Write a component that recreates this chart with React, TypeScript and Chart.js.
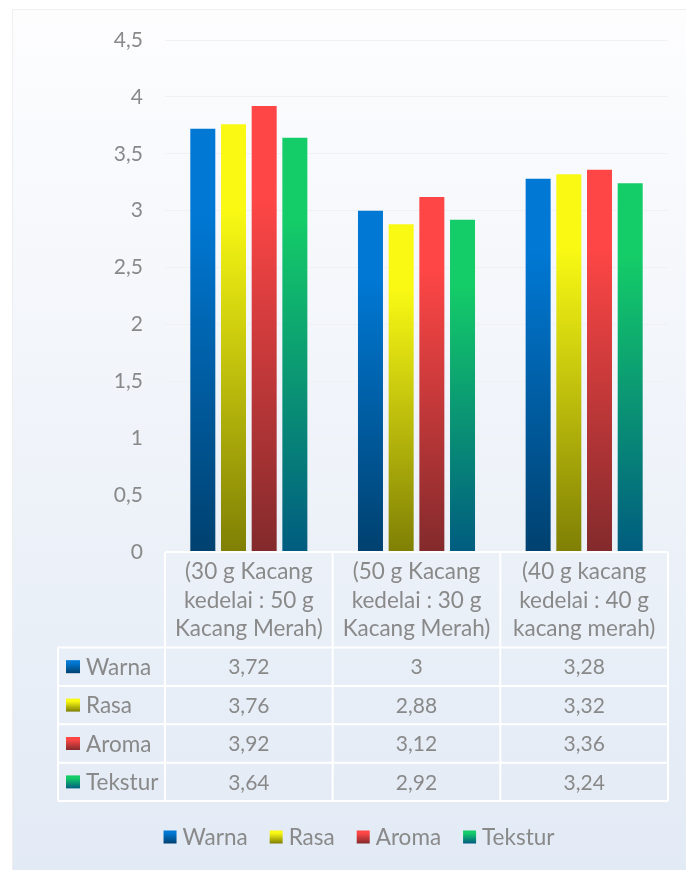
import React, { useEffect, useRef } from "react";
import { Chart, registerables } from "chart.js";

Chart.register(...registerables);

const categories: string[][] = [
  ["(30 g Kacang", "kedelai : 50 g", "Kacang Merah)"],
  ["(50 g Kacang", "kedelai : 30 g", "Kacang Merah)"],
  ["(40 g kacang", "kedelai : 40 g", "kacang merah)"],
];
const seriesNames = ["Warna", "Rasa", "Aroma", "Tekstur"];
const warna = [3.72, 3, 3.28];
const rasa = [3.76, 2.88, 3.32];
const aroma = [3.92, 3.12, 3.36];
const tekstur = [3.64, 2.92, 3.24];
const seriesValues = [warna, rasa, aroma, tekstur];
const topColors = ["#0078D4", "#F9F914", "#FF4646", "#14CC68"];
const bottomColors = ["#00416F", "#7F7F05", "#832A2C", "#005C80"];
const yMin = 0;
const yMax = 4.5;
const yStep = 0.5;

const FONT = "Lato, 'Open Sans', sans-serif";
const NUM_SIZE = 21;
const WORD_SIZE = 22.5;
const TEXT = "#898989";

const fmt = (v: number) => String(v).replace(".", ",");

function vGrad(ctx: CanvasRenderingContext2D, top: number, bottom: number, i: number) {
  const g = ctx.createLinearGradient(0, top, 0, bottom);
  g.addColorStop(0, topColors[i]);
  g.addColorStop(0.2, topColors[i]);
  g.addColorStop(1, bottomColors[i]);
  return g;
}

const bgPlugin = {
  id: "bg",
  beforeDraw(chart: any) {
    const ctx = chart.ctx as CanvasRenderingContext2D;
    const w = chart.width;
    const h = chart.height;
    ctx.save();
    ctx.fillStyle = "#ffffff";
    ctx.fillRect(0, 0, w, h);
    const g = ctx.createLinearGradient(0, 9, 0, h);
    g.addColorStop(0, "#fdfdfe");
    g.addColorStop(1, "#e2eaf5");
    ctx.fillStyle = g;
    ctx.fillRect(12, 9, w - 12, h - 9);
    ctx.strokeStyle = "#efefef";
    ctx.lineWidth = 1;
    ctx.beginPath();
    ctx.moveTo(12.5, h);
    ctx.lineTo(12.5, 9.5);
    ctx.lineTo(w, 9.5);
    ctx.stroke();
    ctx.restore();
  },
};

const tablePlugin = {
  id: "dataTable",
  afterDraw(chart: any) {
    const ctx = chart.ctx as CanvasRenderingContext2D;
    const ca = chart.chartArea;
    const xs = chart.scales.x;
    const n = categories.length;
    const colW = (ca.right - ca.left) / n;
    const tableLeft = 58;
    const headerBottom = ca.bottom + 95.5;
    const rowH = 38.4;
    const tableBottom = headerBottom + rowH * seriesNames.length;

    ctx.save();
    ctx.strokeStyle = "#ffffff";
    ctx.lineWidth = 2;
    ctx.beginPath();
    ctx.moveTo(ca.left, ca.bottom);
    ctx.lineTo(ca.right, ca.bottom);
    for (let r = 0; r <= seriesNames.length; r++) {
      const y = headerBottom + r * rowH;
      ctx.moveTo(tableLeft, y);
      ctx.lineTo(ca.right, y);
    }
    ctx.moveTo(tableLeft, headerBottom);
    ctx.lineTo(tableLeft, tableBottom);
    for (let c = 0; c <= n; c++) {
      const x = ca.left + c * colW;
      ctx.moveTo(x, ca.bottom);
      ctx.lineTo(x, tableBottom);
    }
    ctx.stroke();

    const wordFont = `${WORD_SIZE}px ${FONT}`;
    const numFont = `${NUM_SIZE}px ${FONT}`;
    ctx.fillStyle = TEXT;
    ctx.textBaseline = "middle";
    ctx.textAlign = "center";
    ctx.font = wordFont;
    categories.forEach((lines, i) => {
      const cx = xs.getPixelForValue(i);
      lines.forEach((ln, k) => {
        ctx.fillText(ln, cx, ca.bottom + 20 + k * 28.6);
      });
    });
    seriesNames.forEach((name, s) => {
      const yTop = headerBottom + s * rowH;
      const cy = yTop + rowH / 2;
      ctx.fillStyle = vGrad(ctx, cy - 6.5, cy + 6.5, s);
      ctx.fillRect(66, cy - 6.5, 14, 13);
      ctx.fillStyle = TEXT;
      ctx.textAlign = "left";
      ctx.font = wordFont;
      ctx.fillText(name, 86, cy + 1);
      ctx.textAlign = "center";
      ctx.font = numFont;
      seriesValues[s].forEach((v, i) => {
        ctx.fillText(fmt(v), xs.getPixelForValue(i), cy + 1);
      });
    });

    const ly = 837;
    const box = 13;
    const gapBoxText = 6;
    const gapItems = 22;
    ctx.font = wordFont;
    const widths = seriesNames.map((nm) => ctx.measureText(nm).width);
    const total =
      widths.reduce((a, b) => a + b, 0) + seriesNames.length * (box + gapBoxText) + (seriesNames.length - 1) * gapItems;
    let x = 359 - total / 2;
    ctx.textAlign = "left";
    seriesNames.forEach((nm, s) => {
      ctx.fillStyle = vGrad(ctx, ly - box / 2, ly + box / 2, s);
      ctx.fillRect(x, ly - box / 2, box, box);
      x += box + gapBoxText;
      ctx.fillStyle = TEXT;
      ctx.fillText(nm, x, ly + 1);
      x += widths[s] + gapItems;
    });
    ctx.restore();
  },
};

export default function App() {
  const ref = useRef<HTMLCanvasElement | null>(null);
  useEffect(() => {
    document.body.style.margin = "0";
    const canvas = ref.current;
    if (!canvas) return;
    const chart = new Chart(canvas, {
      type: "bar",
      data: {
        labels: categories.map((c) => c.join(" ")),
        datasets: seriesNames.map((name, s) => ({
          label: name,
          data: seriesValues[s],
          backgroundColor: (c: any) => {
            const ch = c.chart;
            if (!ch.chartArea || c.type !== "data" || !ch.scales.y) return topColors[s];
            const ys = ch.scales.y;
            const y0 = ys.getPixelForValue(0);
            const y1 = ys.getPixelForValue(c.raw);
            return vGrad(ch.ctx, y1, y0, s);
          },
          borderWidth: 0,
          categoryPercentage: 0.732,
          barPercentage: 0.815,
        })),
      },
      options: {
        responsive: false,
        animation: false,
        devicePixelRatio: 1,
        layout: { padding: { top: 40, right: 18, bottom: 318, left: 0 } },
        plugins: {
          legend: { display: false },
          tooltip: { enabled: false },
        },
        scales: {
          x: { display: false },
          y: {
            min: yMin,
            max: yMax,
            ticks: {
              stepSize: yStep,
              padding: 22,
              color: TEXT,
              font: { family: FONT, size: NUM_SIZE },
              callback: (v: any) => fmt(Number(v)),
            },
            grid: { color: "#f0f1f3", lineWidth: 1, drawTicks: false },
            border: { display: false },
            afterFit: (s: any) => {
              s.width = 165;
            },
          },
        },
      },
      plugins: [bgPlugin, tablePlugin],
    });
    return () => chart.destroy();
  }, []);
  return (
    <div style={{ width: 686, height: 870 }}>
      <canvas ref={ref} width={686} height={870} style={{ display: "block" }} />
    </div>
  );
}
